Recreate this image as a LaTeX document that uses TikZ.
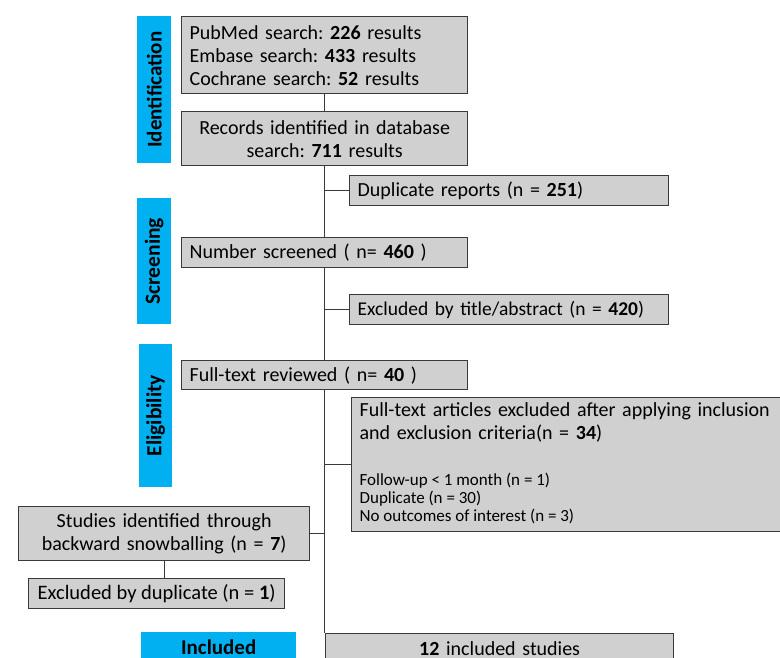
\documentclass[tikz,border=0pt]{standalone}
\usepackage{fontspec}
\setmainfont{Carlito}
\definecolor{barblue}{HTML}{00B0F0}
\definecolor{boxfill}{HTML}{D0D0D0}
\definecolor{boxline}{HTML}{3A3A3A}
\newcommand{\smalltxt}{\fontsize{17}{18}\selectfont\spaceskip=0pt\xspaceskip=0pt\relax}
\begin{document}
\frenchspacing
\begin{tikzpicture}[x=1pt,y=-1pt,
  box/.style={draw=boxline, fill=boxfill, line width=1.3pt, inner xsep=8pt, inner ysep=0pt,
    anchor=north west, font=\fontsize{20}{23}\selectfont\frenchspacing},
  bar/.style={fill=barblue, inner sep=0pt, anchor=north west, text=black,
    font=\fontsize{21}{24}\selectfont\bfseries},
  barlabel/.style={rotate=90, inner sep=0pt, text=black},
  link/.style={draw=boxline, line width=1.3pt}]
\useasboundingbox (0,0) rectangle (780,657);
\clip (0,0) rectangle (780,657);
% phase bars
\node[bar, minimum width=34, minimum height=147] (idb) at (137,16) {};
\node[barlabel, font=\fontsize{21}{24}\selectfont\bfseries] (idt) at (idb.center) {Identification};
\node[bar, minimum width=34, minimum height=126] (scb) at (137,198) {};
\node[barlabel, font=\fontsize{21.5}{24}\selectfont\bfseries] (sct) at (scb.center) {Screening};
\node[bar, minimum width=33, minimum height=143] (elb) at (139,344) {};
\node[barlabel, font=\fontsize{21.5}{24}\selectfont\bfseries] (elt) at (elb.center) {Eligibility};
\node[bar, minimum width=155, minimum height=30] (inb) at (141,632) {Included};
% boxes
\node[box, minimum height=77, text width=270, align=left] (b1) at (181,16)
  {PubMed search: \textbf{226} results\\Embase search: \textbf{433} results\\Cochrane search: \textbf{52} results};
\node[box, minimum height=54, text width=270, align=center] (b2) at (181,111)
  {Records identified in database\\search: \textbf{711} results};
\node[box, minimum height=30, text width=303, align=left] (dup) at (349,175)
  {Duplicate reports (n = \textbf{251})};
\node[box, minimum height=30, text width=270, align=left] (ns) at (181,237)
  {Number screened ( n= \textbf{460} )};
\node[box, minimum height=30, text width=303, align=left, font=\fontsize{19.5}{23}\selectfont] (ex1) at (349,294)
  {Excluded by title/abstract (n = \textbf{420})};
\node[box, minimum height=29, text width=270, align=left] (ft) at (181,360)
  {Full-text reviewed ( n= \textbf{40} )};
\node[box, minimum height=134, text width=433, align=left] (fte) at (351,397)
  {\begin{tabular}{@{}l@{}}
     Full-text articles excluded after applying inclusion\\
     and exclusion criteria(n = \textbf{34})\\[23pt]
     \smalltxt Follow-up < 1 month (n = 1)\\[-5pt]
     \smalltxt Duplicate (n = 30)\\[-5pt]
     \smalltxt No outcomes of interest (n = 3)
   \end{tabular}};
\node[box, minimum height=54, text width=275, align=center] (sb) at (18,506)
  {Studies identified through\\backward snowballing (n = \textbf{7})};
\node[box, minimum height=30, minimum width=256, align=left, inner xsep=9pt, font=\fontsize{20.5}{23}\selectfont] (ed) at (28,578)
  {Excluded by duplicate (n = \textbf{1})};
\node[box, minimum height=30, text width=332, align=center] (inc) at (325,633)
  {\textbf{12} included studies};
% connectors
\draw[link] (b1.south) -- (b2.north);
\draw[link] (b2.south) -- (ns.north);
\draw[link] (ns.south) -- (ft.north);
\draw[link] (ft.south) -- (ft.south |- inc.north);
\draw[link] (b2.south |- dup.west) -- (dup.west);
\draw[link] (ns.south |- ex1.west) -- (ex1.west);
\draw[link] (ft.south |- fte.west) -- (fte.west);
\draw[link] (sb.east) -- (sb.east -| ft.south);
\draw[link] (sb.south) -- (sb.south |- ed.north);
\end{tikzpicture}
\end{document}
